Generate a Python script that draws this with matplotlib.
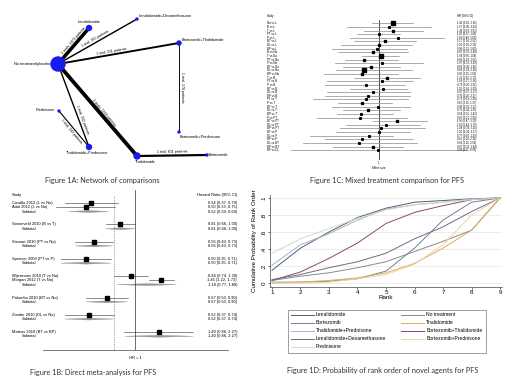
import math
import matplotlib
matplotlib.use("Agg")
import matplotlib.pyplot as plt
from matplotlib import transforms
from matplotlib.patches import Circle, Polygon

plt.rcParams["font.family"] = ["Liberation Sans", "DejaVu Sans"]

W, H = 520, 390

# ---------------- Figure 1A: network of comparisons
nodes = ["No treatment/placebo", "Lenalidomide", "Lenalidomide+Dexamethasone",
         "Bortezomib+Thalidomide", "Bortezomib+Prednisone", "Prednisone",
         "Thalidomide+Prednisone", "Thalidomide", "Bortezomib"]
edge_from = [0, 0, 0, 3, 0, 0, 5, 7]
edge_to = [1, 2, 3, 4, 7, 6, 6, 8]
edge_trials = [2, 1, 1, 1, 2, 1, 1, 1]
edge_patients = [1073, 351, 511, 178, 1164, 332, 243, 611]

# ---------------- Figure 1B: direct meta-analysis
studies = ["Cavallo 2012 (L vs No)", "Attal 2012 (L vs No)", "Sonneveld 2010 (B vs T)",
           "Stewart 2010 (PT vs No)", "Spencer 2009 (PT vs P)", "Wijermans 2010 (T vs No)",
           "Morgan 2012 (T vs No)", "Palumbo 2010 (BT vs No)", "Zonder 2010 (DL vs No)",
           "Mateos 2010 (BT vs BP)"]
study_group = [0, 0, 1, 2, 3, 4, 4, 5, 6, 7]
study_hr = [0.54, 0.50, 0.81, 0.56, 0.50, 0.94, 1.45, 0.67, 0.52, 1.40]
study_lo = [0.37, 0.33, 0.66, 0.43, 0.35, 0.74, 1.22, 0.50, 0.37, 0.86]
study_hi = [0.79, 0.75, 1.00, 0.73, 0.71, 1.20, 1.73, 0.90, 0.74, 2.27]
subtotal_hr = [0.52, 0.81, 0.56, 0.50, 1.18, 0.67, 0.52, 1.40]
subtotal_lo = [0.39, 0.66, 0.43, 0.35, 0.77, 0.50, 0.37, 0.86]
subtotal_hi = [0.69, 1.00, 0.73, 0.71, 1.80, 0.90, 0.74, 2.27]
overall_hr = 0.74

# ---------------- Figure 1C: mixed treatment comparison
treat = ["L", "No", "B", "T", "PT", "P", "BT", "DL", "BP"]
mtc_labels = [f"{treat[j]} vs {treat[i]}" for i in range(9) for j in range(i + 1, 9)]
mtc_hr = [1.41, 1.27, 1.43, 1.00, 1.59, 1.17, 1.01, 0.96, 0.87, 1.04, 0.69, 1.07,
          0.82, 0.69, 0.66, 1.21, 1.09, 0.73, 1.10, 0.87, 0.75, 0.72, 0.65, 0.98,
          0.75, 0.64, 0.62, 1.56, 1.19, 1.04, 1.00, 0.77, 0.65, 0.61, 0.87, 0.98]
mtc_lo = [0.83, 0.45, 0.69, 0.57, 0.48, 0.54, 0.39, 0.31, 0.36, 0.65, 0.43, 0.33,
          0.41, 0.34, 0.25, 0.53, 0.27, 0.26, 0.48, 0.27, 0.26, 0.19, 0.36, 0.31,
          0.41, 0.35, 0.21, 0.87, 0.44, 0.38, 0.34, 0.18, 0.26, 0.15, 0.32, 0.11]
mtc_hi = [2.36, 3.64, 3.03, 1.69, 5.08, 2.52, 2.26, 2.00, 2.08, 1.66, 1.62, 3.03,
          1.69, 2.26, 1.62, 2.79, 2.36, 1.92, 2.00, 2.17, 2.17, 2.08, 1.37, 2.17,
          1.69, 1.43, 2.00, 3.29, 2.79, 3.16, 2.17, 1.43, 2.36, 2.56, 1.84, 8.90]
mtc_weight = [3, 1, 2, 1, 1, 2, 2, 1, 2, 3, 2, 1, 2, 3, 2, 2, 1, 1, 1, 1, 1, 1,
              2, 1, 2, 1, 1, 2, 1, 1, 1, 1, 1, 1, 2, 1]

# ---------------- Figure 1D: rank probabilities
ranks = [1, 2, 3, 4, 5, 6, 7, 8, 9]
rank_names = ["Lenalidomide", "No treatment", "Bortezomib", "Thalidomide",
              "Thalidomide+Prednisone", "Bortezomib+Thalidomide",
              "Lenalidomide+Dexamethasone", "Bortezomib+Prednisone", "Prednisone"]
cum_len = [0.15, 0.41, 0.60, 0.77, 0.88, 0.95, 0.97, 0.99, 1.00]
cum_no = [0.03, 0.08, 0.12, 0.18, 0.25, 0.37, 0.49, 0.62, 1.00]
cum_bort = [0.01, 0.01, 0.02, 0.05, 0.14, 0.41, 0.74, 0.95, 1.00]
cum_thal = [0.00, 0.01, 0.03, 0.06, 0.12, 0.23, 0.41, 0.62, 1.00]
cum_thalpred = [0.21, 0.45, 0.58, 0.74, 0.87, 0.92, 0.95, 0.99, 1.00]
cum_bortthal = [0.03, 0.13, 0.29, 0.47, 0.70, 0.83, 0.91, 0.98, 1.00]
cum_lendex = [0.04, 0.10, 0.18, 0.25, 0.35, 0.52, 0.66, 0.84, 1.00]
cum_bortpred = [0.00, 0.00, 0.01, 0.05, 0.10, 0.22, 0.45, 0.80, 1.00]
cum_pred = [0.35, 0.52, 0.64, 0.76, 0.86, 0.92, 0.95, 0.98, 1.00]
rank_series = [cum_len, cum_no, cum_bort, cum_thal, cum_thalpred, cum_bortthal,
               cum_lendex, cum_bortpred, cum_pred]
rank_colors = ["#4f5d78", "#8a8a8a", "#72809a", "#e3aa5e", "#a4b2c8", "#8c4a6a",
               "#6e6e80", "#e9d7a0", "#d3dac0"]


def rect(x0, y0, x1, y1):
    return [x0 / W, 1 - y1 / H, (x1 - x0) / W, (y1 - y0) / H]


fig = plt.figure(figsize=(5.2, 3.9), dpi=100)
fig.patch.set_facecolor("white")

# ---- panel A
axa = fig.add_axes(rect(0, 0, 260, 175))
axa.set_xlim(0, 260)
axa.set_ylim(175, 0)
axa.axis("off")
node_xy = [(58, 64), (89, 28), (137, 19), (179, 43), (179, 132), (59, 111),
           (89, 147), (137, 156), (207, 155)]
node_r = [7, 2.5, 1, 2, 1, 1, 2.5, 3, 1]
label_xy = [(51, 64), (89, 22), (139, 16), (182, 40), (180, 137), (55, 110),
            (87, 153), (145, 162), (209, 155)]
label_ha = ["right", "center", "left", "left", "left", "right", "center", "center", "left"]
edge_t = [0.6, 0.5, 0.45, 0.5, 0.55, 0.68, 0.5, 0.5]
edge_side = [1, 1, 1, 1, 1, 1, -1, 1]

for a, b, n, p, t, side in zip(edge_from, edge_to, edge_trials, edge_patients, edge_t, edge_side):
    (x0, y0), (x1, y1) = node_xy[a], node_xy[b]
    axa.plot([x0, x1], [y0, y1], color="black", lw=0.3 + p / 480,
             solid_capstyle="butt", zorder=1)
    dx, dy = x1 - x0, y1 - y0
    L = math.hypot(dx, dy)
    nx, ny = dy / L, -dx / L
    tx = x0 + dx * t + side * 3.5 * nx
    ty = y0 + dy * t + side * 3.5 * ny
    ang = math.degrees(math.atan2(-dy, dx))
    if ang > 90:
        ang -= 180
    if ang < -90:
        ang += 180
    txt = f"{n} trial{'s' if n > 1 else ''}, {p} patients"
    axa.text(tx, ty, txt, rotation=ang, rotation_mode="anchor", ha="center",
             va="center", fontsize=2.6)

for name, xy, r, lxy, ha in zip(nodes, node_xy, node_r, label_xy, label_ha):
    axa.add_patch(Circle(xy, r, color="#1a1af0", zorder=3))
    axa.text(lxy[0], lxy[1], name, ha=ha, va="center", fontsize=2.8)

# ---- panel B
axb = fig.add_axes(rect(43, 190, 228, 350))
axb.set_xscale("log")
axb.set_xlim(0.273, 3.71)
rows, sub_rows = [], []
r = 0
for g in range(len(subtotal_hr)):
    for i, sg in enumerate(study_group):
        if sg == g:
            rows.append(r)
            r += 1
    sub_rows.append(r)
    r += 3
axb.set_ylim(34.2, -3.0)
for s in ["top", "right", "left"]:
    axb.spines[s].set_visible(False)
axb.spines["bottom"].set_linewidth(0.5)
axb.spines["bottom"].set_color("#444444")
axb.set_xticks([])
axb.set_yticks([])
axb.xaxis.set_minor_locator(matplotlib.ticker.NullLocator())
axb.axvline(1, color="#333333", lw=0.5)
axb.plot([overall_hr, overall_hr], [-1.5, 34.2], color="#555555", lw=0.5, ls=(0, (1, 1.5)))

trb = transforms.blended_transform_factory(fig.transFigure, axb.transData)
fs_b = 2.9
for name, y, hr, lo, hi in zip(studies, rows, study_hr, study_lo, study_hi):
    axb.plot([lo, hi], [y, y], color="#333333", lw=0.4)
    axb.plot(hr, y, marker="s", color="black", ms=3.0, lw=0)
    axb.text(12 / W, y, name, transform=trb, fontsize=fs_b, va="center", ha="left")
    axb.text(237 / W, y, f"{hr:.2f} ({lo:.2f}, {hi:.2f})", transform=trb,
             fontsize=fs_b, va="center", ha="right")
for y, hr, lo, hi in zip(sub_rows, subtotal_hr, subtotal_lo, subtotal_hi):
    axb.add_patch(Polygon([(lo, y), (hr, y - 0.24), (hi, y), (hr, y + 0.24)],
                          closed=True, fc="#9a9a9a", ec="#8a8a8a", lw=0.2))
    axb.text(22 / W, y, "Subtotal", transform=trb, fontsize=fs_b, va="center", ha="left")
    axb.text(237 / W, y, f"{hr:.2f} ({lo:.2f}, {hi:.2f})", transform=trb,
             fontsize=fs_b, va="center", ha="right")
axb.text(12 / W, -1.86, "Study", transform=trb, fontsize=fs_b, va="center")
axb.text(237 / W, -1.86, "Hazard Ratio (95% CI)", transform=trb, fontsize=fs_b,
         va="center", ha="right")
axb.text(1, 36.0, "HR = 1", fontsize=fs_b, ha="center", va="center")

# ---- panel C
axc = fig.add_axes(rect(290, 20, 468, 160))
axc.set_xscale("log")
axc.set_xlim(0.108, 9.25)
axc.set_ylim(37.7, -0.91)
axc.axis("off")
axc.axvline(1, color="black", lw=0.5)
trc = transforms.blended_transform_factory(fig.transFigure, axc.transData)
msize = {1: 1.2, 2: 1.9, 3: 3.0}
for i, (lab, hr, lo, hi, w) in enumerate(zip(mtc_labels, mtc_hr, mtc_lo, mtc_hi, mtc_weight)):
    axc.plot([lo, hi], [i, i], color="#8a8a8a", lw=0.5)
    axc.plot(hr, i, marker="s", color="black", ms=msize[w], lw=0)
    axc.text(267 / W, i, lab, transform=trc, fontsize=2.1, va="center")
    axc.text(457 / W, i, f"{hr:.2f} ({lo:.2f}, {hi:.2f})", transform=trc,
             fontsize=1.9, va="center")
axc.text(267 / W, -2.0, "Study", transform=trc, fontsize=2.1, va="center")
axc.text(457 / W, -2.0, "HR (95% CI)", transform=trc, fontsize=2.1, va="center")
axc.text(1, 38.5, "1", fontsize=2.1, ha="center", va="center")
axc.text(1, 39.9, "Effect size", fontsize=2.1, ha="center", va="center")

# ---- panel D
axd = fig.add_axes(rect(270, 195, 502, 287))
axd.set_xlim(0.93, 9.07)
axd.set_ylim(-0.047, 1.035)
for s in ["top", "right"]:
    axd.spines[s].set_visible(False)
for s in ["left", "bottom"]:
    axd.spines[s].set_linewidth(0.5)
    axd.spines[s].set_color("#444444")
axd.set_xticks(ranks)
axd.set_yticks([0, 0.2, 0.4, 0.6, 0.8, 1.0])
axd.set_yticklabels(["0", ".2", ".4", ".6", ".8", "1"], rotation=90, va="center")
axd.tick_params(axis="both", labelsize=4.5, length=1.5, width=0.4, pad=1)
axd.grid(axis="y", color="#e6e6e6", lw=0.5)
axd.set_axisbelow(True)
axd.set_xlabel("Rank", fontsize=4.5, labelpad=0)
axd.set_ylabel("Cumulative Probability of Rank Order", fontsize=4.5, labelpad=3)
handles = []
for ys, name, col in zip(rank_series, rank_names, rank_colors):
    ln, = axd.plot(ranks, ys, color=col, lw=0.7, label=name)
    handles.append(ln)
order = [0, 2, 4, 6, 8, 1, 3, 5, 7]
leg = axd.legend([handles[k] for k in order], [rank_names[k] for k in order], ncol=2,
                 loc="upper left", bbox_to_anchor=(285 / W, 1 - 352 / H, 203 / W, 45 / H),
                 bbox_transform=fig.transFigure, mode="expand", fontsize=3.6,
                 frameon=True, fancybox=False, handlelength=4.6, labelspacing=0.6,
                 borderpad=0.6, handletextpad=0.4, columnspacing=2.0)
leg.get_frame().set_edgecolor("#555555")
leg.get_frame().set_linewidth(0.5)

# ---- captions
cap = dict(fontsize=5.3, family=["Lato", "DejaVu Sans"], color="#333333", ha="center", va="center")
fig.text(102 / W, 1 - 180 / H, "Figure 1A: Network of comparisons", **cap)
fig.text(387 / W, 1 - 180 / H, "Figure 1C: Mixed treatment comparison for PFS", **cap)
fig.text(93 / W, 1 - 373 / H, "Figure 1B: Direct meta-analysis for PFS", **cap)
fig.text(383 / W, 1 - 370 / H, "Figure 1D: Probability of rank order of novel agents for PFS", **cap)

fig.savefig("out.png", dpi=100)
